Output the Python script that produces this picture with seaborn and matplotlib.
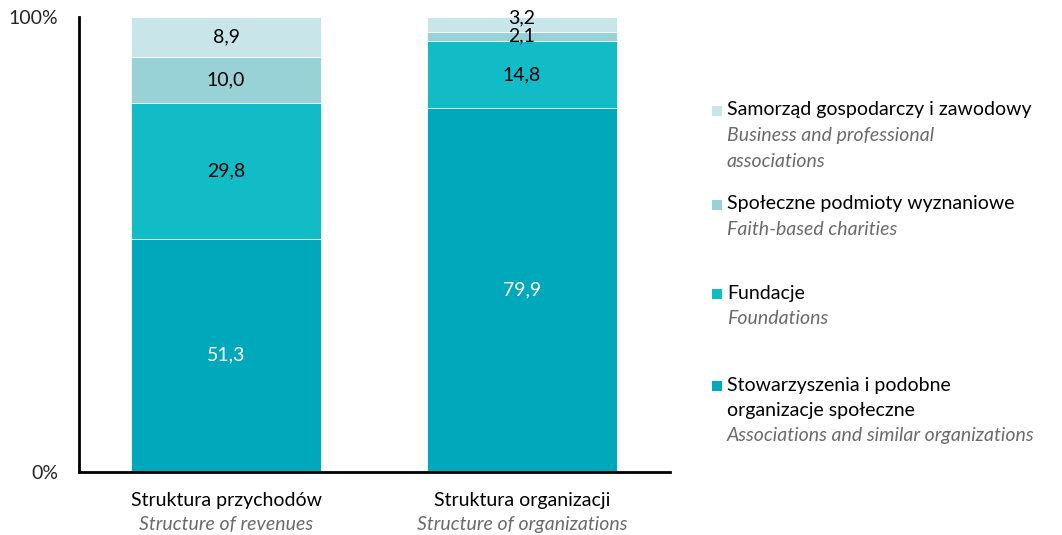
import numpy as np
import matplotlib
matplotlib.use("Agg")
import matplotlib.pyplot as plt
import seaborn as sns
from matplotlib.patches import Rectangle

# ── Data ──────────────────────────────────────────────────────────────────────
categories_pl = ["Struktura przychodów", "Struktura organizacji"]
categories_en = ["Structure of revenues", "Structure of organizations"]

# segments bottom -> top
stowarzyszenia = [51.3, 79.9]
fundacje       = [29.8, 14.8]
wyznaniowe     = [10.0, 2.1]
samorzad       = [8.9, 3.2]

series_pl = ["Stowarzyszenia i podobne\norganizacje społeczne", "Fundacje",
             "Społeczne podmioty wyznaniowe", "Samorząd gospodarczy i zawodowy"]
series_en = ["Associations and similar organizations", "Foundations",
             "Faith-based charities", "Business and professional\nassociations"]
colors = ["#00A8BC", "#12BCC7", "#99D2D6", "#C8E6EA"]

FS = 14

# ── Plot ──────────────────────────────────────────────────────────────────────
sns.set_style("white")
plt.rcParams["font.family"] = ["Lato", "DejaVu Sans"]

fig = plt.figure(figsize=(10.62, 5.35), dpi=100)
ax = fig.add_axes([0.0744, 0.1178, 0.5565, 0.8505])

layers = np.array([stowarzyszenia, fundacje, wyznaniowe, samorzad])
cum = layers.cumsum(axis=0)

# draw cumulative totals from the top down so lower segments overlay
for i in range(len(layers) - 1, -1, -1):
    sns.barplot(x=categories_pl, y=cum[i], color=colors[i], saturation=1,
                width=0.642, edgecolor="white", linewidth=0.6, ax=ax)

# value labels
for j in range(len(categories_pl)):
    for i in range(len(layers)):
        mid = cum[i, j] - layers[i, j] / 2
        if j == 1 and i == 3:
            mid = cum[i, j] - 0.3
        txt_col = "white" if i == 0 else "black"
        ax.text(j, mid, f"{layers[i, j]:.1f}".replace(".", ","),
                ha="center", va="center", fontsize=FS, color=txt_col)

ax.set_xlim(-0.4966, 1.5)
ax.set_ylim(0, 100)
ax.set_yticks([0, 100])
ax.set_yticklabels(["0%", "100%"], fontsize=FS)
ax.tick_params(axis="y", length=0, pad=15)
ax.set_xticks([])
ax.set_xlabel("")
sns.despine(ax=ax)
for s in ["left", "bottom"]:
    ax.spines[s].set_color("black")
    ax.spines[s].set_linewidth(2)

# category labels
for j in range(len(categories_pl)):
    ax.annotate(categories_pl[j], xy=(j, 0), xycoords="data",
                xytext=(0, -29), textcoords="offset pixels",
                ha="center", va="center", fontsize=FS, color="black",
                annotation_clip=False)
    ax.annotate(categories_en[j], xy=(j, 0), xycoords="data",
                xytext=(0, -53), textcoords="offset pixels",
                ha="center", va="center", fontsize=FS, style="italic",
                color="#6b6b6b", annotation_clip=False)

# ── Legend (hand-built) ───────────────────────────────────────────────────────
W, H = 1062, 535
legend_rows = [(3, 110), (2, 204), (1, 293), (0, 385)]
line_h = 25.5
for idx, ytop in legend_rows:
    fig.patches.append(Rectangle((712 / W, 1 - (ytop + 6) / H), 10 / W, 10 / H,
                                 transform=fig.transFigure,
                                 facecolor=colors[idx], edgecolor="none"))
    y = ytop
    for line in series_pl[idx].split("\n"):
        fig.text(727 / W, 1 - y / H, line, ha="left", va="center",
                 fontsize=FS, color="black")
        y += line_h
    for line in series_en[idx].split("\n"):
        fig.text(727 / W, 1 - y / H, line, ha="left", va="center",
                 fontsize=FS, style="italic", color="#6b6b6b")
        y += line_h

fig.savefig("out.png", dpi=100)
